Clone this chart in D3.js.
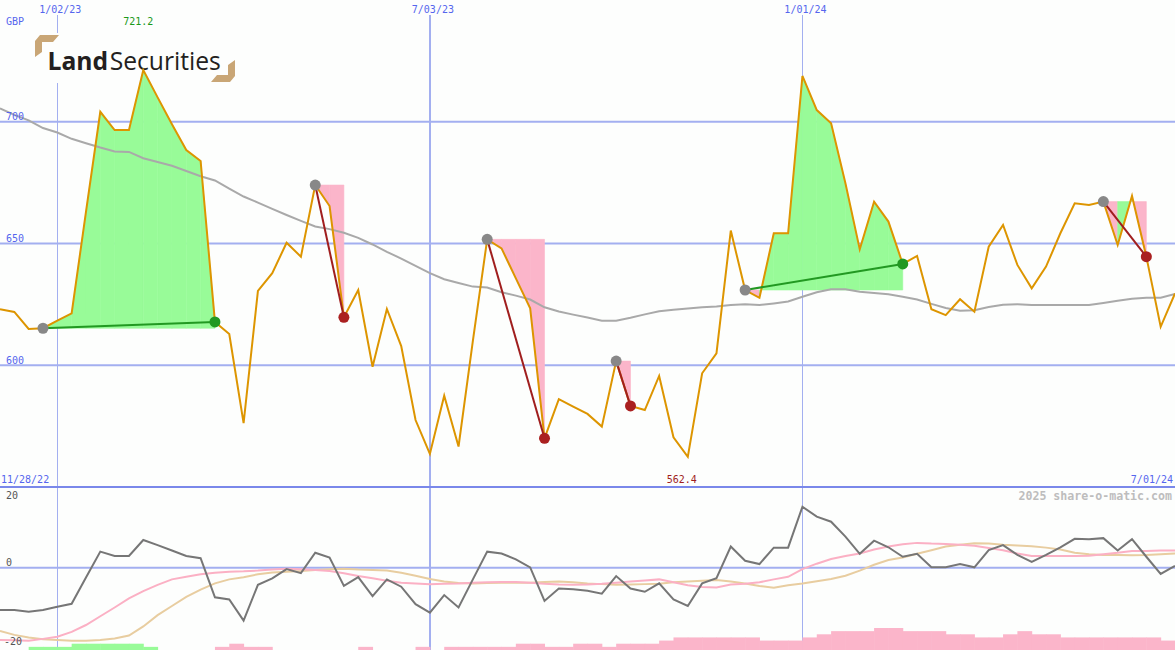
<!DOCTYPE html>
<html><head><meta charset="utf-8">
<script src="https://cdn.jsdelivr.net/npm/d3@7"></script>
<style>html,body{margin:0;padding:0;background:#fdfefd;} svg{display:block;}</style>
</head><body><svg id="c" width="1175" height="650"></svg>
<script>
// ---------- DATA ----------
const startDate = "2022-12-05";
const endDate = "2024-07-01";
const close = [623.0,621.9,614.9,615.2,618.3,621.3,663.0,704.1,696.6,696.6,
  721.2,710.0,699.0,688.4,683.9,617.8,612.8,576.2,630.5,637.8,
  650.3,644.6,674.0,665.4,619.7,630.9,599.4,623.1,607.9,577.5,
  563.6,587.5,566.6,610.0,651.7,648.0,635.7,623.4,570.0,586.1,
  583.0,580.0,574.8,601.7,583.3,581.6,595.6,570.4,562.4,596.7,
  604.9,655.3,630.9,627.7,654.2,654.2,718.8,704.8,699.4,674.7,
  647.6,667.2,659.0,641.6,644.9,623.0,620.6,627.1,622.0,648.7,
  657.6,641.2,631.6,640.5,654.2,666.5,665.8,667.2,649.4,669.5,
  644.6,615.8,629.5];
const movingAvg = [705.5,702.8,700.6,697.4,695.6,693.0,691.2,689.4,687.8,687.6,
  685.0,683.5,681.9,679.8,677.6,675.9,672.5,669.3,666.8,664.2,
  661.7,659.3,657.0,655.9,654.4,652.3,649.6,646.6,643.8,640.8,
  637.8,635.3,633.8,632.3,631.9,630.0,628.6,627.0,623.8,622.1,
  620.8,619.6,618.3,618.3,619.5,620.9,622.2,622.8,623.3,623.8,
  624.1,624.7,625.0,624.7,625.4,626.2,628.1,630.0,631.2,631.2,
  630.2,629.7,629.2,628.1,627.0,625.2,623.5,622.4,622.6,623.9,
  624.8,625.1,624.7,624.7,624.7,624.7,624.7,625.6,626.5,627.3,
  627.7,627.7,629.3];
const oscillator = [-11.6,-11.6,-12.1,-11.6,-10.7,-9.9,-2.7,4.4,3.2,3.2,
  7.6,6.2,4.7,3.2,2.6,-8.1,-8.7,-14.5,-4.7,-2.9,
  -0.4,-1.5,4.1,2.8,-5.0,-2.6,-7.8,-3.2,-5.2,-10.0,
  -12.3,-7.5,-10.9,-3.2,4.4,3.9,2.3,0.1,-9.1,-5.7,
  -5.9,-6.3,-7.1,-2.3,-5.7,-6.6,-4.3,-8.7,-10.5,-4.3,
  -2.9,5.8,1.9,1.0,5.5,5.5,16.7,14.0,12.6,8.5,
  3.8,7.4,5.6,3.0,3.8,0.1,0.1,1.0,0.1,4.8,
  6.2,3.5,1.6,3.5,5.6,7.9,7.8,8.1,4.7,7.8,
  3.0,-1.7,0.5];
const oscPink = [-19.8,-19.9,-20.0,-19.5,-18.9,-17.6,-15.7,-13.3,-10.9,-8.4,
  -6.4,-4.7,-3.2,-2.5,-1.8,-1.4,-1.1,-1.0,-0.8,-0.5,
  -0.3,-0.4,-0.6,-0.9,-1.5,-2.3,-2.9,-3.6,-4.1,-4.3,
  -4.5,-4.4,-4.3,-4.1,-4.0,-3.9,-3.9,-4.1,-4.4,-4.6,
  -4.7,-4.6,-4.4,-4.1,-3.8,-3.5,-3.2,-4.0,-4.8,-5.3,
  -5.4,-4.6,-4.4,-4.0,-3.2,-2.5,-0.4,1.1,2.4,3.2,
  3.9,5.0,5.8,6.4,6.8,6.6,6.5,6.3,6.0,5.4,
  4.8,3.9,3.2,3.2,3.2,3.2,3.3,3.7,4.1,4.6,
  4.6,4.7,4.7];
const oscTan = [-17.3,-18.4,-19.1,-19.6,-19.8,-20.0,-20.0,-19.8,-19.4,-18.6,
  -16.1,-13.0,-10.5,-8.0,-6.0,-4.3,-3.2,-2.6,-1.8,-1.3,
  -1.1,-0.9,-0.6,-0.4,-0.3,-0.5,-0.6,-0.8,-1.4,-2.2,
  -3.1,-3.8,-4.2,-4.3,-4.2,-4.1,-4.1,-4.1,-3.9,-3.8,
  -4.0,-4.3,-4.5,-4.7,-4.6,-4.5,-4.4,-4.0,-3.8,-3.6,
  -3.4,-3.8,-4.3,-5.0,-5.5,-4.8,-4.3,-3.7,-3.1,-2.2,
  -0.8,0.8,2.1,2.8,3.8,4.8,5.8,6.3,6.7,6.6,
  6.3,6.1,5.9,5.5,5.0,4.1,3.7,3.5,3.5,3.4,
  3.5,3.7,3.9];
// histogram levels per weekly step (positive = green, negative = pink)
const histLevels = [0,0,1,1,1,2,2,2,2,2, 1,0,0,0,0,-1,-2,-1,-1,0,
  0,0,0,0,0,-1,0,0,0,-1, 0,-1,-1,-1,-1,-1,-2,-2,-1,-1,
  -2,-2,-1,-2,-2,-2,-3,-4,-4,-4, -4,-4,-4,-3,-3,-3,-4,-5,-6,-6,
  -6,-7,-7,-6,-6,-6,-5,-5,-4,-4, -5,-6,-5,-5,-4,-4,-4,-4,-4,-4,
  -4,-3];
const tradeEntry = [3,22,34,43,52,77];
const tradeExit  = [15,24,38,44,63,80];
const priceTicks = [600,650,700];
const oscTicks = [20,0,-20];
const oscTickLabels = ["20","0","-20"];
const dateTicks = ["2023-01-02","2023-07-03","2024-01-01"];
const dateTickLabels = ["1/02/23","7/03/23","1/01/24"];
const rangeLabels = ["11/28/22","7/01/24"];
const logoWords = ["Land","Securities"];

// ---------- SETUP ----------
const parse = d3.timeParse("%Y-%m-%d");
const t0 = parse(startDate), t1 = parse(endDate);
const dates = d3.timeMonday.range(t0, d3.timeDay.offset(t1, 1));
const W = 1175, H = 650;
const x = d3.scaleTime().domain([t0, t1]).range([0, W]);
const y = d3.scaleLinear().domain([550, 750]).range([487, 0]);
const yo = d3.scaleLinear().domain([-20, 20]).range([640.7, 494.7]);
const hb = d3.scaleLinear().domain([0, 7]).range([0, 22]);

const svg = d3.select("#c");
const FONT = "DejaVu Sans Mono";
const BLUE = "#5566ee", GRID = "#a3aff0";
svg.append("rect").attr("width", W).attr("height", H).attr("fill", "#fdfefd");

// horizontal gridlines main
svg.append("g").selectAll("line").data(priceTicks).join("line")
  .attr("x1", 0).attr("x2", W).attr("y1", d => y(d)).attr("y2", d => y(d))
  .attr("stroke", GRID).attr("stroke-width", 2);
// bottom zero line
svg.append("line").attr("x1", 0).attr("x2", W).attr("y1", yo(0)).attr("y2", yo(0))
  .attr("stroke", GRID).attr("stroke-width", 2);
// vertical gridlines
const vw = (d, i) => i === 1 ? 2 : 1;
const vx = (d, i) => Math.round(x(parse(d))) + (vw(d, i) === 1 ? 0.5 : 0);
svg.append("g").selectAll("line").data(dateTicks).join("line")
  .attr("x1", vx).attr("x2", vx)
  .attr("y1", 15).attr("y2", H)
  .attr("stroke", GRID).attr("stroke-width", vw);
// separator
svg.append("line").attr("x1", 0).attr("x2", W).attr("y1", 487).attr("y2", 487)
  .attr("stroke", "#7a88ea").attr("stroke-width", 2);

// ---------- LOGO (covers gridlines, under data) ----------
const logo = svg.append("g");
logo.append("rect").attr("x", 33).attr("y", 33).attr("width", 205).attr("height", 50).attr("fill", "#fdfefd");
const TAN = "#c9a676";
logo.append("polygon").attr("points", "40,35 59,35 53,42 42,42 42,52 35,57 35,41").attr("fill", TAN);
logo.append("polygon").attr("points", "230,82 211,82 217,75 228,75 228,65 235,60 235,76").attr("fill", TAN);
const lw1 = logo.append("text").text(logoWords[0]).attr("x", 47.5).attr("y", 70)
  .attr("font-family", "Open Sans").attr("font-weight", "bold").attr("font-size", 29).attr("fill", "#231f20");
const lw2 = logo.append("text").text(logoWords[1]).attr("y", 70)
  .attr("font-family", "Open Sans").attr("font-size", 29).attr("fill", "#231f20");
const w1 = lw1.node().getComputedTextLength(), w2 = lw2.node().getComputedTextLength();
const f = 172 / (w1 + w2);
const fs = Math.min(29 * f, 31);
lw1.attr("font-size", fs);
lw2.attr("font-size", fs);
const w1b = lw1.node().getComputedTextLength();
lw2.attr("x", 47.5 + w1b + 1.5);

// trade fills
const seg = [];
tradeEntry.forEach((e, t) => {
  for (let k = e; k < tradeExit[t]; k++) {
    seg.push({ e: close[e], a: k, b: k + 1, up: close[k + 1] > close[e] });
  }
});
const area = d3.area().x(d => x(d.d)).y0(d => y(d.e)).y1(d => y(d.v));
svg.append("g").selectAll("path").data(seg).join("path")
  .attr("d", s => area([{ d: dates[s.a], e: s.e, v: close[s.a] }, { d: dates[s.b], e: s.e, v: close[s.b] }]))
  .attr("fill", s => s.up ? "#98fb98" : "#fbb5ca").attr("stroke", s => s.up ? "#98fb98" : "#fbb5ca").attr("stroke-width", 0.6);

// moving average
const line = d3.line().x((d, i) => x(dates[i])).y(d => y(d));
svg.append("path").attr("d", line(movingAvg)).attr("fill", "none")
  .attr("stroke", "#a9a9a9").attr("stroke-width", 2);
// price
svg.append("path").attr("d", line(close)).attr("fill", "none")
  .attr("stroke", "#dd9500").attr("stroke-width", 2).attr("stroke-linejoin", "miter");

// trade lines & dots
tradeEntry.forEach((e, t) => {
  const xI = tradeExit[t];
  const win = close[xI] > close[e];
  svg.append("line").attr("x1", x(dates[e])).attr("y1", y(close[e]))
    .attr("x2", x(dates[xI])).attr("y2", y(close[xI]))
    .attr("stroke", win ? "#229922" : "#a01e1e").attr("stroke-width", 2);
  svg.append("circle").attr("cx", x(dates[e])).attr("cy", y(close[e])).attr("r", 5.5).attr("fill", "#888888");
  svg.append("circle").attr("cx", x(dates[xI])).attr("cy", y(close[xI])).attr("r", 5.5)
    .attr("fill", win ? "#229922" : "#aa2020");
});

// bottom histogram
svg.append("g").selectAll("rect").data(histLevels).join("rect")
  .attr("x", (d, i) => x(dates[i])).attr("width", (d, i) => x(dates[i + 1]) - x(dates[i]) + 0.5)
  .attr("y", d => H - hb(Math.abs(d))).attr("height", d => hb(Math.abs(d)))
  .attr("fill", d => d > 0 ? "#98fb98" : "#fbb5ca");
// oscillator lines
const oline = d3.line().x((d, i) => x(dates[i])).y(d => yo(d));
svg.append("path").attr("d", oline(oscTan)).attr("fill", "none").attr("stroke", "#e8cda0").attr("stroke-width", 2);
svg.append("path").attr("d", oline(oscPink)).attr("fill", "none").attr("stroke", "#fbb0c4").attr("stroke-width", 2);
svg.append("path").attr("d", oline(oscillator)).attr("fill", "none").attr("stroke", "#767676").attr("stroke-width", 2);

// ---------- TEXT ----------
const txt = (s, px, py, fill, anchor, size, weight) => svg.append("text").text(s)
  .attr("x", px).attr("y", py).attr("fill", fill).attr("text-anchor", anchor || "start")
  .attr("font-family", FONT).attr("font-size", size || 10).attr("font-weight", weight || "normal");

txt("GBP", 6, 24.5, BLUE);
priceTicks.forEach(v => txt(String(v), 6, y(v) - 1.5, BLUE));
dateTicks.forEach((d, i) => txt(dateTickLabels[i], x(parse(d)) + 3, 13, BLUE, "middle"));
txt(rangeLabels[0], 1, 483, BLUE);
txt(rangeLabels[1], W - 2, 483, BLUE, "end");
const iMax = d3.maxIndex(close), iMin = d3.minIndex(close);
txt(close[iMax].toFixed(1), x(dates[iMax]) - 5, 24.5, "#1a991a", "middle");
txt(close[iMin].toFixed(1), x(dates[iMin]) - 6, 483, "#a01e1e", "middle");
oscTicks.forEach((v, i) => txt(oscTickLabels[i], v < 0 ? 4 : 6, yo(v) + (v === 0 ? -2 : 4.5), "#555555"));
txt("2025 share-o-matic.com", W - 3, 500, "#bdbdbd", "end", 11.6, "bold");
</script></body></html>
